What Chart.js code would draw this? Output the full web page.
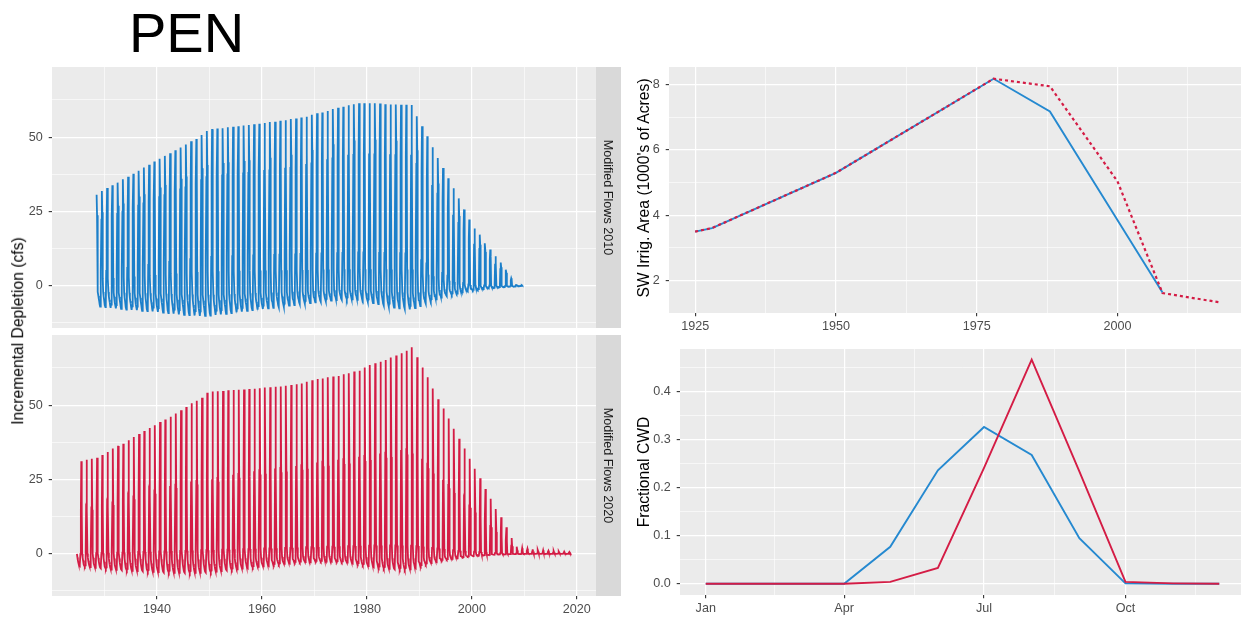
<!DOCTYPE html>
<html>
<head>
<meta charset="utf-8">
<script src="https://cdn.jsdelivr.net/npm/chart.js@4.4.1/dist/chart.umd.min.js"></script>
<style>
  html, body { margin: 0; padding: 0; background: #fff; overflow: hidden; width: 1241px; height: 619px; }
  body { position: relative; font-family: "Liberation Sans", Arial, sans-serif; }
  canvas { position: absolute; }
  .title { position: absolute; left: 129px; top: 5px; font-size: 56px; line-height: 56px; color: #000; }
  .ytitle { position: absolute; font-size: 15.7px; line-height: 15.7px; color: #000; white-space: nowrap;
            transform: translate(-50%, -50%) rotate(-90deg); }
</style>
</head>
<body>
<canvas id="depl2010" width="621" height="261" style="left:0;top:67px"></canvas>
<canvas id="depl2020" width="621" height="284" style="left:0;top:335px"></canvas>
<canvas id="area" width="605" height="268" style="left:640px;top:67px"></canvas>
<canvas id="cwd" width="605" height="270" style="left:640px;top:349px"></canvas>

<div class="title">PEN</div>
<div class="ytitle" style="left:18px;top:331px">Incremental Depletion (cfs)</div>
<div class="ytitle" style="left:644px;top:188px">SW Irrig. Area (1000's of Acres)</div>
<div class="ytitle" style="left:643.5px;top:472px">Fractional CWD</div>

<script>
// ---- Modified Flows 2010 : yearly levels (1928 .. 2009)
const firstYear2010 = 1928;
const peak2010 = [30.6,31.9,32.9,33.8,34.7,35.8,36.7,37.7,38.7,39.8,
  40.7,41.8,42.7,43.7,44.6,45.6,46.5,47.5,48.6,49.4,
  50.7,52.1,52.7,52.9,53.0,53.3,53.5,53.7,53.9,54.1,
  54.3,54.5,54.8,55.1,55.2,55.5,55.7,56.1,56.3,56.6,
  56.9,57.5,58.0,58.3,58.8,59.5,59.9,60.2,60.7,61.1,
  61.4,61.4,61.4,61.4,61.3,61.1,61.0,61.0,60.9,60.9,
  60.8,57.0,53.7,50.3,46.6,43.0,39.6,36.2,32.8,29.4,
  25.7,22.3,19.3,17.2,14.3,12.2,9.9,7.8,5.4,2.5,
  0.4,0.2];
const second2010 = [23.7,24.7,25.5,26.2,26.9,27.7,28.4,29.2,30.0,30.8,
  31.5,32.4,33.1,33.9,34.6,35.3,36.0,36.8,37.7,38.3,
  39.5,40.6,41.1,41.3,41.3,41.6,41.7,41.9,42.0,42.2,
  42.4,42.6,42.9,43.1,43.3,43.6,43.8,44.1,44.4,44.7,
  45.2,45.7,46.4,46.6,47.0,47.6,47.9,48.2,48.6,48.9,
  49.1,49.1,49.1,49.1,49.0,48.9,48.8,48.8,48.7,48.7,
  48.6,45.6,43.0,40.2,37.3,34.4,31.7,29.0,26.2,23.5,
  20.6,17.8,15.4,13.8,11.4,9.8,7.9,6.2,4.3,2.0,
  0.3,0.1];
const low2010 = [4.5,4.8,5.0,5.3,5.5,5.8,6.0,6.3,6.5,6.8,
  7.0,7.3,7.5,7.8,8.0,8.3,8.5,8.8,9.0,9.2,
  9.4,9.6,9.7,9.8,9.9,10.0,10.0,10.1,10.1,10.2,
  10.2,10.3,10.3,10.4,10.4,10.5,10.5,10.6,10.6,10.7,
  10.7,10.8,10.8,10.9,10.9,11.0,11.0,11.1,11.1,11.2,
  11.2,11.2,11.2,11.2,11.1,11.1,11.0,11.0,11.0,10.9,
  10.9,9.8,8.6,7.5,6.4,5.3,4.3,3.4,2.5,1.7,
  1.0,0.5,0.3,0.2,0.1,0.1,0.1,0,0,0,
  0,0];
const trough2010 = [-6.8,-7.0,-7.2,-7.4,-7.6,-7.8,-8.0,-8.1,-8.2,-8.4,
  -8.5,-8.6,-8.8,-9.0,-9.2,-9.4,-9.6,-9.8,-9.9,-10.0,
  -10.1,-10.1,-10.0,-9.8,-9.6,-9.4,-9.2,-8.9,-8.7,-8.4,
  -8.2,-8.0,-7.8,-7.6,-7.4,-7.2,-7.0,-6.7,-6.5,-6.2,
  -6.0,-5.8,-5.6,-5.4,-5.2,-5.0,-4.8,-4.7,-4.6,-4.6,
  -4.7,-5.0,-5.4,-5.8,-6.2,-6.6,-7.0,-7.3,-7.6,-7.8,
  -7.9,-7.5,-6.8,-6.0,-5.3,-4.6,-4.0,-3.5,-3.0,-2.6,
  -2.2,-1.9,-1.6,-1.3,-1.1,-0.9,-0.7,-0.5,-0.4,-0.3,
  -0.2,-0.1];
// month-by-month shape (Jan..Dec): which yearly level, and its share
const shape2010 = [['T',0.75],['T',0.9],['T',1],['T',0.85],['L',1],['S',0.9],
                   ['P',1],['S',1],['L',0.5],['T',0.3],['T',0.5],['T',0.65]];
const span2010 = [1928 + 6/12, 2009 + 8/12];   // Jul 1928 .. Sep 2009

// ---- Modified Flows 2020 : yearly levels (1924 .. 2018)
const firstYear2020 = 1924;
const peak2020 = [30.5,31.1,31.6,32.0,32.3,33.2,34.2,35.4,36.3,37.0,
  38.2,39.3,40.3,41.3,42.3,43.2,44.3,45.2,46.1,47.2,
  48.3,49.4,50.6,51.5,52.5,54.2,54.6,54.7,54.8,55.0,
  55.1,55.2,55.3,55.4,55.5,55.7,55.9,56.0,56.2,56.3,
  56.5,56.8,57.0,57.3,57.9,58.4,58.8,59.0,59.4,59.6,
  59.8,60.4,60.7,61.3,61.6,62.7,63.5,64.1,64.6,65.2,
  66.0,66.7,67.5,68.3,69.5,66.1,62.7,59.4,55.6,52.0,
  48.9,45.5,42.1,38.7,35.4,32.0,28.6,25.4,21.8,18.5,
  15.1,12.3,8.9,5.3,2.4,1.9,1.7,1.5,1.3,1.2,
  1.0,0.9,0.8,0.7,0.6];
const second2020 = [14.8,15.1,15.3,15.6,15.9,16.3,16.8,17.3,17.8,18.3,
  18.8,19.3,19.8,20.3,20.8,21.3,21.8,22.3,22.8,23.3,
  23.7,24.0,24.3,24.5,24.6,24.7,25.1,25.5,25.9,26.3,
  26.6,26.9,27.2,27.5,27.8,28.1,28.3,28.5,28.7,28.9,
  29.1,29.3,29.5,29.8,30.1,30.4,30.7,31.0,31.2,31.4,
  31.6,31.8,32.0,32.3,32.6,32.9,33.2,33.5,33.7,34.0,
  34.3,34.6,34.9,35.2,35.5,33.7,32.0,30.3,28.4,26.5,
  24.9,23.2,21.5,19.7,18.1,16.3,14.6,13.0,11.1,9.4,
  7.7,6.3,4.5,2.7,1.2,1.0,0.9,0.8,0.7,0.6,
  0.5,0.5,0.4,0.4,0.3];
const low2020 = [0.0,0.0,0.1,0.1,0.2,0.2,0.3,0.3,0.4,0.4,
  0.5,0.5,0.6,0.6,0.7,0.7,0.8,0.8,0.9,0.9,
  1.0,1.0,1.1,1.1,1.2,1.2,1.3,1.3,1.4,1.4,
  1.5,1.5,1.6,1.6,1.7,1.7,1.8,1.8,1.9,1.9,
  2.0,2.0,2.1,2.1,2.2,2.2,2.3,2.3,2.4,2.4,
  2.5,2.5,2.6,2.6,2.7,2.7,2.7,2.8,2.8,2.8,
  2.8,2.8,2.8,2.7,2.7,2.6,2.4,2.2,2.0,1.8,
  1.6,1.4,1.2,1.0,0.9,0.8,0.7,0.6,0.5,0.4,
  0.3,0.3,0.2,0.2,0.1,0.1,0.1,0.1,0.1,0.1,
  0.1,0.1,0.1,0.1,0.1];
const trough2020 = [-3.8,-4.1,-4.3,-4.5,-4.7,-4.9,-5.1,-5.3,-5.4,-5.5,
  -5.6,-5.7,-5.8,-5.9,-6.0,-6.1,-6.2,-6.3,-6.3,-6.4,
  -6.4,-6.4,-6.4,-6.4,-6.4,-6.3,-6.2,-6.0,-5.8,-5.6,
  -5.4,-5.2,-5.0,-4.8,-4.6,-4.4,-4.2,-4.0,-3.8,-3.6,
  -3.4,-3.2,-3.0,-2.9,-2.8,-2.7,-2.6,-2.6,-2.6,-2.6,
  -2.7,-2.8,-3.0,-3.2,-3.5,-3.8,-4.1,-4.4,-4.7,-4.9,
  -5.1,-5.2,-5.3,-5.3,-5.2,-4.8,-4.2,-3.6,-3.1,-2.7,
  -2.3,-2.0,-1.7,-1.4,-1.2,-1.0,-0.8,-0.6,-0.5,-0.4,
  -0.3,-0.2,-0.2,-0.1,-0.1,-0.1,0,0,0,0,
  0,0,0,0,0];
const shape2020 = [['T',0.7],['T',0.85],['T',0.95],['T',1],['T',0.9],['L',1],
                   ['S',1],['P',1],['S',0.95],['L',1],['T',0.3],['T',0.55]];
const span2020 = [1924 + 9/12, 2018 + 10/12];  // Oct 1924 .. Nov 2018

// ---- SW irrigated area (1000's of acres)
const areaYears2010 = [1925, 1928, 1950, 1978, 1988, 2008];
const area2010 = [3.5, 3.61, 5.3, 8.18, 7.18, 1.64];
const areaYears2020 = [1925, 1928, 1950, 1978, 1988, 2000, 2008, 2018];
const area2020 = [3.5, 3.61, 5.3, 8.18, 7.95, 5.04, 1.62, 1.34];

// ---- fractional CWD by month (x = day of year of the 1st of each month)
const cwdDays = [0, 31, 59, 90, 120, 151, 181, 212, 243, 273, 304, 334];
const cwd2010 = [0, 0, 0, 0, 0.077, 0.236, 0.326, 0.268, 0.095, 0.001, 0, 0];
const cwd2020 = [0, 0, 0, 0, 0.004, 0.033, 0.241, 0.466, 0.234, 0.004, 0.001, 0];

// ---- ticks
const yearTicks = [1930, 1940, 1950, 1960, 1970, 1980, 1990, 2000, 2010, 2020];
const yearMajors = [1940, 1960, 1980, 2000, 2020];
const deplTicks = [-12.5, 0, 12.5, 25, 37.5, 50, 62.5];
const deplMajors = [0, 25, 50];
const areaXTicks = [1925, 1937.5, 1950, 1962.5, 1975, 1987.5, 2000, 2012.5];
const areaXMajors = [1925, 1950, 1975, 2000];
const areaYTicks = [2, 3, 4, 5, 6, 7, 8];
const areaYMajors = [2, 4, 6, 8];
const cwdXTicks = [0, 45, 90, 135.5, 181, 227, 273, 318.5];
const cwdXMajors = [0, 90, 181, 273];
const cwdXLabels = ['Jan', 'Apr', 'Jul', 'Oct'];
const cwdYTicks = [0, 0.05, 0.1, 0.15, 0.2, 0.25, 0.3, 0.35, 0.4, 0.45];
const cwdYMajors = [0, 0.1, 0.2, 0.3, 0.4];
const cwdYLabels = ['0.0', '0.1', '0.2', '0.3', '0.4'];

const BLUE = '#2589d0';
const BLUE_DENSE = '#1b7fca';
const RED = '#d41c45';

Chart.defaults.font.family = "'Liberation Sans', Arial, sans-serif";
const tickFont = { family: "'Liberation Sans', Arial, sans-serif", size: 12.6 };

function monthly(firstYear, span, levels, shape) {
  const pts = [];
  for (let i = 0; i < levels.P.length; i++) {
    for (let m = 0; m < 12; m++) {
      const t = firstYear + i + m / 12;
      if (t < span[0] - 1e-6 || t > span[1] + 1e-6) continue;
      const [lvl, share] = shape[m];
      pts.push({ x: t, y: levels[lvl][i] * share });
    }
  }
  return pts;
}

function xy(xs, ys) {
  return xs.map((x, i) => ({ x, y: ys[i] }));
}

const panelBg = {
  id: 'panelBg',
  beforeDraw(chart) {
    const { ctx, chartArea: a } = chart;
    ctx.save();
    ctx.fillStyle = '#EBEBEB';
    ctx.fillRect(a.left, a.top, a.right - a.left, a.bottom - a.top);
    ctx.restore();
  }
};

// fixed-size axis box, no extra padding for overhanging labels
function fixSize(s, size) {
  if (s.isHorizontal()) s.height = size; else s.width = size;
  s.paddingTop = 0; s.paddingBottom = 0; s.paddingLeft = 0; s.paddingRight = 0;
}

function axis({ min, max, ticks, majors, labels, size, side, showLabels = true }) {
  const isMajor = c => c.tick && majors.includes(c.tick.value);
  const horizontal = side === 'bottom';
  return {
    type: 'linear', min, max, position: side,
    afterBuildTicks: s => { s.ticks = ticks.map(v => ({ value: v })); },
    afterFit: s => fixSize(s, size),
    border: { display: false },
    grid: {
      color: '#FFFFFF',
      lineWidth: c => isMajor(c) ? 1.2 : 0.6,
      drawTicks: showLabels,
      tickLength: 3.3,
      tickWidth: 1.1,
      tickColor: c => isMajor(c) ? '#333333' : 'rgba(0,0,0,0)'
    },
    ticks: {
      display: showLabels, autoSkip: false, maxRotation: 0, minRotation: 0,
      padding: horizontal ? 3 : 6,
      color: '#4D4D4D', font: tickFont,
      callback: v => {
        const k = majors.indexOf(v);
        return k < 0 ? '' : (labels ? labels[k] : String(v));
      }
    }
  };
}

function strip(text) {
  return {
    type: 'linear', position: 'right', display: true,
    backgroundColor: '#D9D9D9',
    afterFit: s => fixSize(s, 25),
    border: { display: false },
    grid: { display: false, drawTicks: false },
    ticks: { display: false },
    title: { display: true, text, color: '#1A1A1A', font: tickFont, padding: { top: 6, bottom: 0 } }
  };
}

const baseOptions = {
  responsive: false,
  animation: false,
  devicePixelRatio: 1,
  events: [],
  layout: { padding: 0, autoPadding: false },
  plugins: { legend: { display: false }, tooltip: { enabled: false } },
  elements: { point: { radius: 0 }, line: { tension: 0 } }
};

function deplChart(id, data, color, stripText, showX) {
  return new Chart(document.getElementById(id), {
    type: 'line',
    data: { datasets: [{ data, borderColor: color, borderWidth: 1.8, xAxisID: 'x', yAxisID: 'y' }] },
    options: {
      ...baseOptions,
      parsing: false,
      normalized: true,
      scales: {
        x: axis({ min: 1920.0, max: 2023.65, ticks: yearTicks, majors: yearMajors,
                  size: showX ? 23 : 0, side: 'bottom', showLabels: showX }),
        y: axis({ min: -14.2, max: 73.6, ticks: deplTicks, majors: deplMajors, size: 52, side: 'left' }),
        strip: strip(stripText)
      }
    },
    plugins: [panelBg]
  });
}

deplChart('depl2010',
  monthly(firstYear2010, span2010, { P: peak2010, S: second2010, L: low2010, T: trough2010 }, shape2010),
  BLUE_DENSE, 'Modified Flows 2010', false);

deplChart('depl2020',
  monthly(firstYear2020, span2020, { P: peak2020, S: second2020, L: low2020, T: trough2020 }, shape2020),
  RED, 'Modified Flows 2020', true);

new Chart(document.getElementById('area'), {
  type: 'line',
  data: {
    datasets: [
      { data: xy(areaYears2020, area2020), borderColor: RED, borderWidth: 2.2, borderDash: [3, 3], order: 0 },
      { data: xy(areaYears2010, area2010), borderColor: BLUE, borderWidth: 1.9, order: 1 }
    ]
  },
  options: {
    ...baseOptions,
    scales: {
      x: axis({ min: 1920.35, max: 2022.65, ticks: areaXTicks, majors: areaXMajors, size: 22, side: 'bottom' }),
      y: axis({ min: 1.01, max: 8.54, ticks: areaYTicks, majors: areaYMajors, size: 29, side: 'left' })
    }
  },
  plugins: [panelBg]
});

new Chart(document.getElementById('cwd'), {
  type: 'line',
  data: {
    datasets: [
      { data: xy(cwdDays, cwd2020), borderColor: RED, borderWidth: 1.9, order: 0 },
      { data: xy(cwdDays, cwd2010), borderColor: BLUE, borderWidth: 1.9, order: 1 }
    ]
  },
  options: {
    ...baseOptions,
    scales: {
      x: axis({ min: -16.75, max: 350.75, ticks: cwdXTicks, majors: cwdXMajors, labels: cwdXLabels,
                size: 24, side: 'bottom' }),
      y: axis({ min: -0.02325, max: 0.48825, ticks: cwdYTicks, majors: cwdYMajors, labels: cwdYLabels,
                size: 40, side: 'left' })
    }
  },
  plugins: [panelBg]
});
</script>
</body>
</html>
